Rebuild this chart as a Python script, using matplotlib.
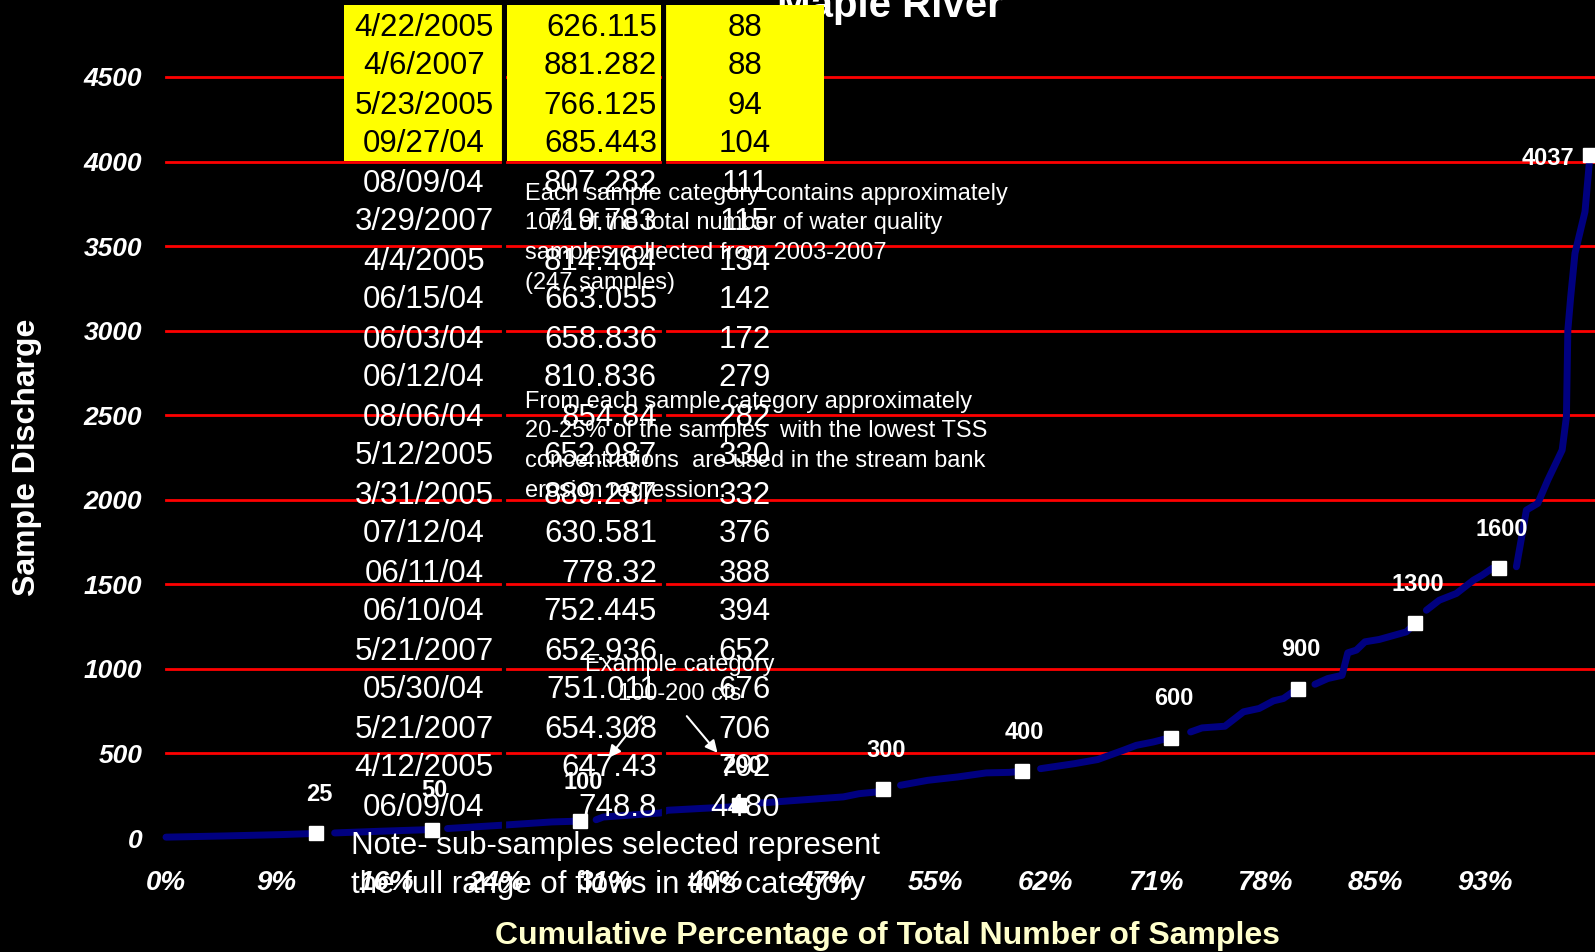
import numpy as np
import matplotlib
matplotlib.use('Agg')
import matplotlib.pyplot as plt
from matplotlib.patches import Rectangle

plt.rcParams['font.family'] = ['Liberation Sans', 'DejaVu Sans']

# curva cumulata: percentuale dei campioni e portata (cfs)
curve_pct = [0, 4.0, 8.0, 10.5, 11.8, 15.0, 18.6, 19.7, 23.4, 27.0, 29.0,
             30.1, 30.6, 34.6, 35.1, 37.5, 39.4, 40.1,
             41.6, 44.5, 47.4, 48.5, 49.7, 50.2,
             51.4, 53.3, 55.4, 57.4, 59.0, 59.9,
             61.2, 63.6, 65.2, 67.0, 67.9, 69.1, 70.3,
             71.7, 72.5, 74.1, 75.4, 76.5, 77.5, 78.2, 79.2,
             80.4, 81.3, 82.3, 82.7, 83.3, 83.9, 84.9, 86.8, 87.4,
             88.2, 89.1, 90.3, 91.5, 92.1, 92.8, 93.3,
             94.5, 95.2, 96.0, 96.7, 97.7, 98.0, 98.1, 98.3, 98.6, 99.3, 99.6, 99.65]
curve_q = [5, 12, 20, 27, 30, 40, 50, 56, 75, 95, 100,
           108, 124, 148, 164, 175, 183, 193,
           207, 225, 243, 262, 272, 290,
           312, 341, 361, 385, 388, 395,
           410, 440, 464, 519, 548, 568, 594,
           627, 651, 661, 746, 766, 811, 825, 884,
           909, 943, 962, 1095, 1111, 1160, 1174, 1219, 1269,
           1347, 1406, 1446, 1525, 1554, 1594, 1594,
           1604, 1939, 1979, 2117, 2294, 2491, 3004, 3201, 3458, 3704, 3990, 4037]

# punti di separazione delle categorie
marker_pct = [10.5, 18.6, 29.0, 40.1, 50.2, 59.9, 70.3, 79.2, 87.4, 93.3, 99.65]
marker_q = [27, 50, 100, 193, 290, 395, 594, 884, 1269, 1594, 4037]
marker_labels = ['25', '50', '100', '200', '300', '400', '600', '900', '1300', '1600', '4037']

y_ticks = [0, 500, 1000, 1500, 2000, 2500, 3000, 3500, 4000, 4500]
x_tick_labels = ['0%', '9%', '16%', '24%', '31%', '40%', '47%', '55%', '62%',
                 '71%', '78%', '85%', '93%']

# tabella dei campioni
dates = ['4/22/2005', '4/6/2007', '5/23/2005', '09/27/04', '08/09/04', '3/29/2007',
         '4/4/2005', '06/15/04', '06/03/04', '06/12/04', '08/06/04', '5/12/2005',
         '3/31/2005', '07/12/04', '06/11/04', '06/10/04', '5/21/2007', '05/30/04',
         '5/21/2007', '4/12/2005', '06/09/04']
tss = ['626.115', '881.282', '766.125', '685.443', '807.282', '719.783', '814.464',
       '663.055', '658.836', '810.836', '854.84', '652.987', '889.287', '630.581',
       '778.32', '752.445', '652.936', '751.011', '654.308', '647.43', '748.8']
flows = ['88', '88', '94', '104', '111', '115', '134', '142', '172', '279', '282',
         '330', '332', '376', '388', '394', '652', '676', '706', '792', '4480']
n_highlight = 4

W, H = 1595, 952
fig = plt.figure(figsize=(W / 100, H / 100), dpi=100, facecolor='black')
ax = fig.add_axes([166 / W, 1 - 838 / H, 1 - 166 / W, (838 - 77) / H])
ax.set_facecolor('black')
ax.set_xlim(0, 100)
ax.set_ylim(0, 4500)
for s in ax.spines.values():
    s.set_visible(False)

for v in y_ticks[1:]:
    ax.axhline(v, color='red', lw=2, zorder=1, clip_on=False)

ax.set_yticks(y_ticks)
ax.set_yticklabels([str(v) for v in y_ticks], fontsize=19, fontweight='bold',
                   fontstyle='italic', color='white')
ax.set_xticks(np.arange(len(x_tick_labels)) * 100 / 13)
ax.set_xticklabels(x_tick_labels, fontsize=20, fontweight='bold',
                   fontstyle='italic', color='white')
ax.tick_params(axis='y', length=0, pad=17)
ax.tick_params(axis='x', length=0, pad=23)

# linea spezzata dopo ogni marcatore
cp = np.array(curve_pct)
cq = np.array(curve_q)
idx = [int(np.argmin(np.abs(cp - p))) for p in marker_pct]
start = 0
for i in idx:
    ax.plot(cp[start:i + 1], cq[start:i + 1], color='#000080', lw=5,
            solid_capstyle='round', solid_joinstyle='round', zorder=3, clip_on=False)
    start = i + 1

ax.plot(marker_pct, marker_q, 's', ms=10.5, color='white', zorder=4, clip_on=False)
for p, q, lab in zip(marker_pct[:-1], marker_q[:-1], marker_labels[:-1]):
    ax.annotate(lab, (p, q), xytext=(2, 28), textcoords='offset points',
                ha='center', va='center', color='white', fontsize=17, fontweight='bold')
ax.annotate(marker_labels[-1], (marker_pct[-1], marker_q[-1]), xytext=(-11, -2),
            textcoords='offset points', ha='right', va='center', color='white',
            fontsize=17, fontweight='bold')

# sovrapposizione: tabella, titolo, note
ov = fig.add_axes([0, 0, 1, 1])
ov.set_xlim(0, W)
ov.set_ylim(H, 0)
ov.axis('off')
ov.patch.set_alpha(0)

ov.text(1003, 17, 'Maple River', ha='right', va='baseline', fontsize=29,
        fontweight='bold', color='white', zorder=1)

row_h = 39
top = 5
cols = [(343.8, 501.5), (506.6, 661.2), (666.3, 824)]
for x0, x1 in cols:
    ov.add_patch(Rectangle((x0, top), x1 - x0, row_h * n_highlight,
                           facecolor='yellow', edgecolor='none', zorder=2))
for xs in [504, 664]:
    ov.plot([xs, xs], [0, 828], color='black', lw=3, zorder=2)

for i in range(len(dates)):
    yc = top + row_h * (i + 0.5) + 3
    c = 'black' if i < n_highlight else 'white'
    ov.text(424, yc, dates[i], ha='center', va='center', fontsize=22.5, color=c, zorder=3)
    ov.text(657, yc, tss[i], ha='right', va='center', fontsize=22.5, color=c, zorder=3)
    ov.text(745, yc, flows[i], ha='center', va='center', fontsize=22.5, color=c, zorder=3)

note1 = ['Each sample category contains approximately',
         '10% of the total number of water quality',
         'samples collected from 2003-2007',
         '(247 samples)']
for k, line in enumerate(note1):
    ov.text(525, 194 + 29.5 * k, line, ha='left', va='center', fontsize=17,
            color='white', zorder=4)

note2 = ['From each sample category approximately',
         '20-25% of the samples  with the lowest TSS',
         'concentrations  are used in the stream bank',
         'erosion regression.']
for k, line in enumerate(note2):
    ov.text(525, 402 + 29.5 * k, line, ha='left', va='center', fontsize=17,
            color='white', zorder=4)

ov.text(679.5, 665, 'Example category', ha='center', va='center', fontsize=17,
        color='white', zorder=4)
ov.text(679.5, 694.5, '100-200 cfs', ha='center', va='center', fontsize=17,
        color='white', zorder=4)
ov.annotate('', xy=(606.7, 760), xytext=(643.3, 714),
            arrowprops=dict(arrowstyle='-|>', color='white', lw=1.5, mutation_scale=18))
ov.annotate('', xy=(719.3, 755), xytext=(685, 714),
            arrowprops=dict(arrowstyle='-|>', color='white', lw=1.5, mutation_scale=18))

ov.text(351, 846, 'Note- sub-samples selected represent', ha='left', va='center',
        fontsize=22.5, color='white', zorder=4)
ov.text(351, 885, 'the full range of flows in this category', ha='left', va='center',
        fontsize=22.5, color='white', zorder=4)

fig.text(27.5 / W, 1 - 457 / H, 'Sample Discharge', rotation=90, ha='center',
         va='center', fontsize=23, fontweight='bold', color='white')
fig.text(888 / W, 1 - 936 / H, 'Cumulative Percentage of Total Number of Samples',
         ha='center', va='center', fontsize=23, fontweight='bold', color='#FFFFCC')

fig.savefig('out.png', dpi=100, facecolor='black')
